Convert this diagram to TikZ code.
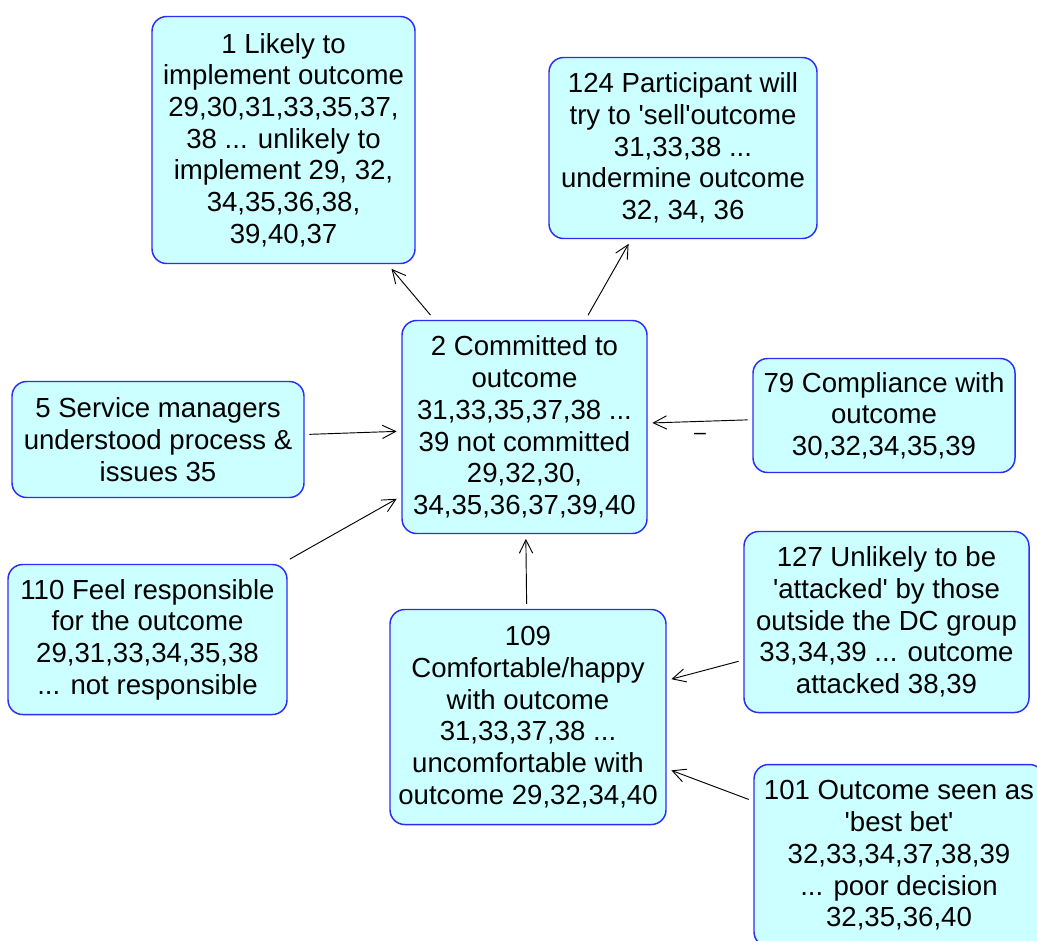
\documentclass[tikz,border=0pt]{standalone}
\usepackage{fontspec}
\setmainfont{Liberation Sans}[Ligatures=TeXOff]
\usetikzlibrary{arrows.meta}
\definecolor{boxfill}{RGB}{204,255,255}
\definecolor{boxline}{RGB}{45,45,250}
\begin{document}
\begin{tikzpicture}[x=0.75pt,y=-0.75pt,
  concept/.style={draw=boxline,fill=boxfill,line width=1.1pt,rounded corners=11pt,
    align=center,inner sep=0pt,outer sep=4pt,
    font=\fontsize{20.7}{23.8}\selectfont},
  link/.style={-{Straight Barb[length=10pt,width=10pt,line width=0.7pt]},line width=0.7pt,black}]
\useasboundingbox (0,0) rectangle (1037,940);
\clip (0,0) rectangle (1037,940);

% concept boxes, placed by their centres
\node[concept,minimum width=197.25pt,minimum height=185.25pt] (b1) at (283.5,140)
  {1 Likely to\\implement outcome\\29,30,31,33,35,37,\\38 ... unlikely to\\implement 29, 32,\\34,35,36,38,\\39,40,37};
\node[concept,minimum width=201pt,minimum height=135.75pt] (b124) at (683,148)
  {124 Participant will\\try to 'sell'outcome\\31,33,38 ...\\undermine outcome\\32, 34, 36};
\node[concept,minimum width=183.75pt,minimum height=159.75pt] (b2) at (524.5,427)
  {2 Committed to\\outcome\\31,33,35,37,38 ...\\39 not committed\\29,32,30,\\34,35,36,37,39,40};
\node[concept,minimum width=219pt,minimum height=87pt] (b5) at (158,439.5)
  {5 Service managers\\understood process \&\\issues 35};
\node[concept,minimum width=196.5pt,minimum height=85.5pt] (b79) at (884,415.5)
  {79 Compliance with\\outcome\\30,32,34,35,39};
\node[concept,minimum width=209.25pt,minimum height=112.5pt] (b110) at (147.5,639.5)
  {110 Feel responsible\\for the outcome\\29,31,33,34,35,38\\... not responsible};
\node[concept,minimum width=207pt,minimum height=161.25pt] (b109) at (528,717)
  {109\\Comfortable/happy\\with outcome\\31,33,37,38 ...\\uncomfortable with\\outcome 29,32,34,40};
\node[concept,minimum width=213.75pt,minimum height=135.75pt] (b127) at (886.5,622)
  {127 Unlikely to be\\'attacked' by those\\outside the DC group\\33,34,39 ... outcome\\attacked 38,39};
\node[concept,minimum width=217.5pt,minimum height=136.5pt] (b101) at (899,855.5)
  {101 Outcome seen as\\'best bet'\\32,33,34,37,38,39\\... poor decision\\32,35,36,40};

% influence links
\draw[link] (b2) -- (b1);
\draw[link] (b2) -- (b124);
\draw[link] (b5) -- (b2);
\draw[link] (b79) -- node[below=5pt,font=\fontsize{16}{18}\selectfont] {–} (b2);
\draw[link] (b110) -- (b2);
\draw[link] (b109) -- (b2);
\draw[link] (b127) -- (b109);
\draw[link] (b101) -- (b109);
\end{tikzpicture}
\end{document}
